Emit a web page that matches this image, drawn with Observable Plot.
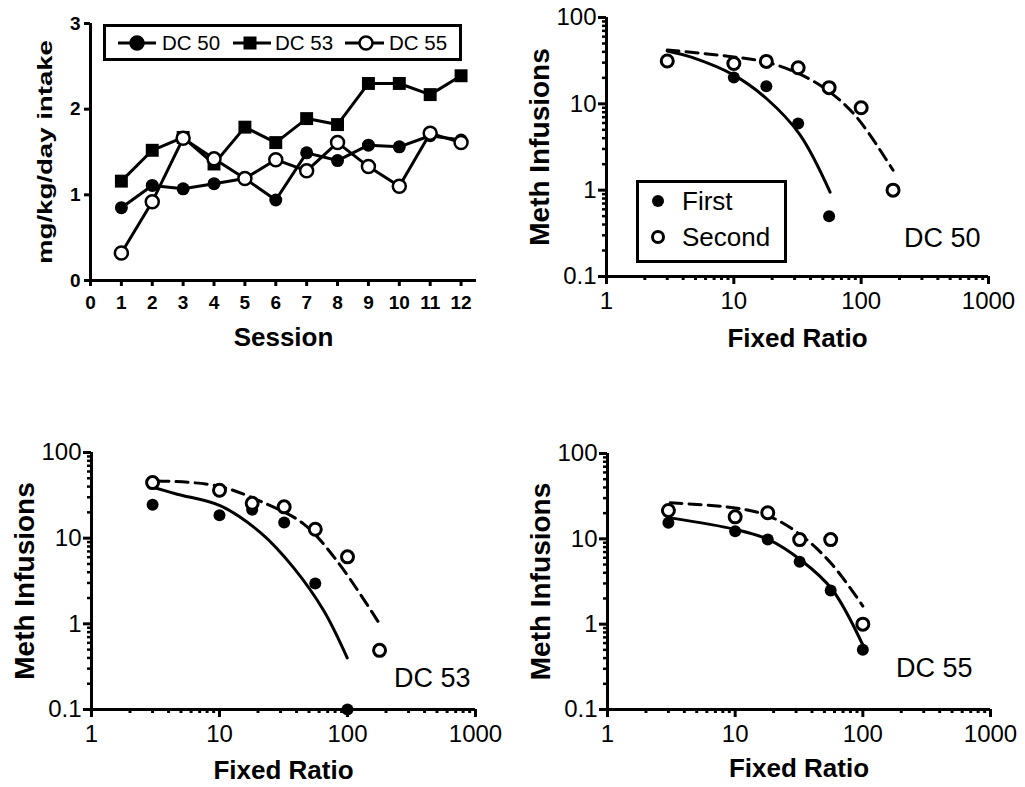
<!DOCTYPE html>
<html><head><meta charset="utf-8">
<script src="https://cdn.jsdelivr.net/npm/d3@7"></script>
<script src="https://cdn.jsdelivr.net/npm/@observablehq/plot@0.6"></script>
<style>
body{margin:0;background:#fff;}
#wrap{position:relative;width:1025px;height:787px;overflow:hidden;background:#fff;font-family:"Liberation Sans",Arial,sans-serif;}
.panel{position:absolute;}
.panel svg{overflow:visible;}
#overlay{position:absolute;left:0;top:0;pointer-events:none;}
</style></head><body><div id="wrap"></div>
<script>
// ---------- Panel A: intake by session ----------
const sessions = [1,2,3,4,5,6,7,8,9,10,11,12];
const dc50Intake = [0.85,1.11,1.07,1.13,1.19,0.94,1.49,1.40,1.58,1.56,1.69,1.64];
const dc53Intake = [1.16,1.52,1.67,1.36,1.79,1.61,1.89,1.82,2.30,2.30,2.17,2.39];
const dc55Intake = [0.32,0.92,1.66,1.42,1.19,1.41,1.28,1.61,1.33,1.10,1.72,1.61];
const sessionTicks = [0,1,2,3,4,5,6,7,8,9,10,11,12];
const intakeTicks = [0,1,2,3];
const seriesNames = ["DC 50","DC 53","DC 55"];

// ---------- Demand panels ----------
const ratioMajorTicks = [1,10,100,1000];
const ratioMinorTicks = [2,3,4,5,6,7,8,9,20,30,40,50,60,70,80,90,200,300,400,500,600,700,800,900];
const infMajorTicks = [0.1,1,10,100];
const infMinorTicks = [0.2,0.3,0.4,0.5,0.6,0.7,0.8,0.9,2,3,4,5,6,7,8,9,20,30,40,50,60,70,80,90];
const sessionLabels = ["First","Second"];

// DC 50
const dc50FirstFR = [3,10,18,32,56];
const dc50FirstInf = [32,20.2,16,5.9,0.5];
const dc50SecondFR = [3,10,18,32,56,100,178];
const dc50SecondInf = [31.3,29.3,31,26.2,15.4,9.0,1.0];
const dc50FirstFitFR = [3,4.7,10,18.3,33,57];
const dc50FirstFitInf = [41,34.5,21.5,11.3,4.4,0.95];
const dc50SecondFitFR = [3,10,18.3,33,57.5,93,178];
const dc50SecondFitInf = [42,35,30.2,22.1,13.5,6.9,1.7];

// DC 53
const dc53FirstFR = [3,10,18,32,56,100];
const dc53FirstInf = [24.5,18.5,21.5,15.2,2.95,0.1];
const dc53SecondFR = [3,10,18,32,56,100,178];
const dc53SecondInf = [44.5,36.3,25.5,23.2,12.7,6.05,0.49];
const dc53FirstFitFR = [3.07,4.67,10.2,20.9,38,65.3,99.5];
const dc53FirstFitInf = [39,32.6,23.8,11.6,4.5,1.42,0.40];
const dc53SecondFitFR = [3.26,9.6,23.6,45.6,83,178];
const dc53SecondFitInf = [46.6,40.8,24.9,14.6,5.4,1.0];

// DC 55
const dc55FirstFR = [3,10,18,32,56,100];
const dc55FirstInf = [15.4,12.3,9.8,5.4,2.48,0.5];
const dc55SecondFR = [3,10,18,32,56,100];
const dc55SecondInf = [21.5,18.1,20.2,9.8,9.8,1.0];
const dc55FirstFitFR = [3.1,10,18.3,33.4,57.5,100];
const dc55FirstFitInf = [17.6,12.9,9.8,5.5,2.55,0.57];
const dc55SecondFitFR = [3.1,10,18.3,33.4,57.5,100];
const dc55SecondFitInf = [26.4,23,18.5,10.8,5.0,1.63];

const FONT = '"Liberation Sans", Arial, sans-serif';
const wrap = document.getElementById("wrap");
const rows = (xs, ys) => xs.map((x, i) => ({x, y: ys[i]}));

function place(svg, left, top) {
  const d = document.createElement("div");
  d.className = "panel";
  d.style.left = left + "px";
  d.style.top = top + "px";
  d.appendChild(svg);
  wrap.appendChild(d);
}

// ----- Panel A -----
const intakeData = [
  ...sessions.map((s, i) => ({x: s, y: dc50Intake[i], series: seriesNames[0]})),
  ...sessions.map((s, i) => ({x: s, y: dc53Intake[i], series: seriesNames[1]})),
  ...sessions.map((s, i) => ({x: s, y: dc55Intake[i], series: seriesNames[2]}))
];
const intakeLabel = "mg/kg/day intake";
const panelA = Plot.plot({
  width: 500, height: 360,
  marginLeft: 90, marginRight: 24, marginTop: 23, marginBottom: 80,
  x: {domain: [0, 12.5]},
  y: {domain: [0, 3]},
  style: {fontFamily: FONT, color: "#000", background: "transparent"},
  marks: [
    Plot.axisX(sessionTicks, {tickSize: 6, tickPadding: 9, strokeWidth: 3, fontSize: 19, fontWeight: "bold", tickFormat: d => String(d), label: null}),
    Plot.axisY(intakeTicks, {tickSize: 6, tickPadding: 4, strokeWidth: 3, fontSize: 19, fontWeight: "bold", tickFormat: d => String(d), label: null}),
    Plot.ruleX([0], {strokeWidth: 3}),
    Plot.ruleY([0], {strokeWidth: 3}),
    Plot.line(intakeData, {x: "x", y: "y", z: "series", stroke: "#000", strokeWidth: 3}),
    Plot.dot(intakeData.filter(d => d.series === seriesNames[0]), {x: "x", y: "y", r: 6.5, fill: "#000"}),
    Plot.dot(intakeData.filter(d => d.series === seriesNames[1]), {x: "x", y: "y", r: 7.3, symbol: "square", fill: "#000"}),
    Plot.dot(intakeData.filter(d => d.series === seriesNames[2]), {x: "x", y: "y", r: 6.5, fill: "#fff", stroke: "#000", strokeWidth: 2.5}),
    Plot.text(["Session"], {frameAnchor: "bottom", dy: 57, lineAnchor: "middle", fontSize: 26, fontWeight: "bold"}),
    Plot.text([intakeLabel], {frameAnchor: "left", textAnchor: "middle", rotate: -90, dx: -45, lineAnchor: "middle", fontSize: 20, fontWeight: "bold"})
  ]
});
// the reference's y title is drawn stretched along its length
d3.select(panelA).selectAll("text")
  .filter(function () { return this.textContent === intakeLabel; })
  .each(function () {
    const t = this.getAttribute("transform") || "";
    this.setAttribute("transform", t + " scale(1.38,1)");
  });
place(panelA, 0, 0);

// ----- Demand panels -----
function demandPanel(o) {
  const first = rows(o.firstFR, o.firstInf);
  const second = rows(o.secondFR, o.secondInf);
  return Plot.plot({
    width: o.width, height: o.height,
    marginLeft: o.ml, marginRight: o.mr, marginTop: o.mt, marginBottom: o.mb,
    x: {type: "log", domain: [1, 1000]},
    y: {type: "log", domain: [0.1, 100]},
    style: {fontFamily: FONT, color: "#000", background: "transparent"},
    marks: [
      Plot.axisX(ratioMinorTicks, {tickSize: 4, strokeWidth: 3, tickFormat: () => "", label: null}),
      Plot.axisX(ratioMajorTicks, {tickSize: 8, tickPadding: 7, strokeWidth: 3, fontSize: 24, tickFormat: d => String(d), label: null}),
      Plot.axisY(infMinorTicks, {tickSize: 4, strokeWidth: 2.5, tickFormat: () => "", label: null}),
      Plot.axisY(infMajorTicks, {tickSize: 8, tickPadding: 2, strokeWidth: 3, fontSize: 24, tickFormat: d => String(d), label: null}),
      Plot.ruleX([1], {strokeWidth: 3}),
      Plot.ruleY([0.1], {strokeWidth: 3}),
      Plot.line(rows(o.firstFitFR, o.firstFitInf), {x: "x", y: "y", stroke: "#000", strokeWidth: 3, curve: "catmull-rom"}),
      Plot.line(rows(o.secondFitFR, o.secondFitInf), {x: "x", y: "y", stroke: "#000", strokeWidth: 3, strokeDasharray: "12,7", curve: "catmull-rom"}),
      Plot.dot(first, {x: "x", y: "y", r: 6, fill: "#000"}),
      Plot.dot(second, {x: "x", y: "y", r: 6, fill: "#fff", stroke: "#000", strokeWidth: 3}),
      Plot.text([o.name], {frameAnchor: "bottom-right", textAnchor: "end", lineAnchor: "middle", dx: o.ndx, dy: o.ndy, fontSize: 27}),
      Plot.text(["Fixed Ratio"], {frameAnchor: "bottom", dy: o.tdy, lineAnchor: "middle", fontSize: 26, fontWeight: "bold"}),
      Plot.text(["Meth Infusions"], {frameAnchor: "left", textAnchor: "middle", rotate: -90, dx: -66, lineAnchor: "middle", fontSize: 28, fontWeight: "bold"})
    ]
  });
}

place(demandPanel({
  width: 525, height: 360, ml: 106, mr: 37, mt: 17, mb: 84,
  firstFR: dc50FirstFR, firstInf: dc50FirstInf, secondFR: dc50SecondFR, secondInf: dc50SecondInf,
  firstFitFR: dc50FirstFitFR, firstFitInf: dc50FirstFitInf, secondFitFR: dc50SecondFitFR, secondFitInf: dc50SecondFitInf,
  name: seriesNames[0], ndx: -8, ndy: -38, tdy: 62
}), 500, 0);

place(demandPanel({
  width: 500, height: 367, ml: 91, mr: 25, mt: 32, mb: 78,
  firstFR: dc53FirstFR, firstInf: dc53FirstInf, secondFR: dc53SecondFR, secondInf: dc53SecondInf,
  firstFitFR: dc53FirstFitFR, firstFitInf: dc53FirstFitInf, secondFitFR: dc53SecondFitFR, secondFitInf: dc53SecondFitInf,
  name: seriesNames[1], ndx: -5, ndy: -31, tdy: 61
}), 0, 420);

place(demandPanel({
  width: 525, height: 367, ml: 107, mr: 35, mt: 33, mb: 78,
  firstFR: dc55FirstFR, firstInf: dc55FirstInf, secondFR: dc55SecondFR, secondInf: dc55SecondInf,
  firstFitFR: dc55FirstFitFR, firstFitInf: dc55FirstFitInf, secondFitFR: dc55SecondFitFR, secondFitInf: dc55SecondFitInf,
  name: seriesNames[2], ndx: -18, ndy: -41, tdy: 59
}), 500, 420);

// ----- Legends (overlay) -----
const ov = d3.select(wrap).append("svg").attr("id", "overlay").attr("width", 1025).attr("height", 787)
  .style("font-family", FONT);

// legend for panel A
const gA = ov.append("g");
gA.append("rect").attr("x", 104.5).attr("y", 25.5).attr("width", 356).attr("height", 34)
  .attr("fill", "#fff").attr("stroke", "#000").attr("stroke-width", 3);
const legA = [
  {name: seriesNames[0], x0: 118, x1: 156, mx: 137, tx: 162, sym: "circle", fill: "#000"},
  {name: seriesNames[1], x0: 233, x1: 271, mx: 250, tx: 275, sym: "square", fill: "#000"},
  {name: seriesNames[2], x0: 345, x1: 384, mx: 366, tx: 389, sym: "circle", fill: "#fff"}
];
legA.forEach(d => {
  gA.append("line").attr("x1", d.x0).attr("x2", d.x1).attr("y1", 43).attr("y2", 43).attr("stroke", "#000").attr("stroke-width", 3);
  if (d.sym === "square") {
    gA.append("rect").attr("x", d.mx - 6.5).attr("y", 36.5).attr("width", 13).attr("height", 13).attr("fill", "#000");
  } else {
    gA.append("circle").attr("cx", d.mx).attr("cy", 43).attr("r", 6.5).attr("fill", d.fill).attr("stroke", "#000").attr("stroke-width", 2.5);
  }
  gA.append("text").attr("x", d.tx).attr("y", 43).attr("dy", "0.36em").attr("font-size", 20.5).text(d.name);
});

// legend for DC 50 demand panel
const gB = ov.append("g");
gB.append("rect").attr("x", 637.5).attr("y", 181.5).attr("width", 148).attr("height", 80)
  .attr("fill", "#fff").attr("stroke", "#000").attr("stroke-width", 3);
const legB = [
  {name: sessionLabels[0], cy: 201, fill: "#000"},
  {name: sessionLabels[1], cy: 237, fill: "#fff"}
];
legB.forEach(d => {
  gB.append("circle").attr("cx", 658).attr("cy", d.cy).attr("r", d.fill === "#000" ? 6 : 5.5)
    .attr("fill", d.fill).attr("stroke", "#000").attr("stroke-width", d.fill === "#000" ? 0 : 3);
  gB.append("text").attr("x", 682).attr("y", d.cy).attr("dy", "0.36em").attr("font-size", 26).text(d.name);
});
</script>
</body></html>
